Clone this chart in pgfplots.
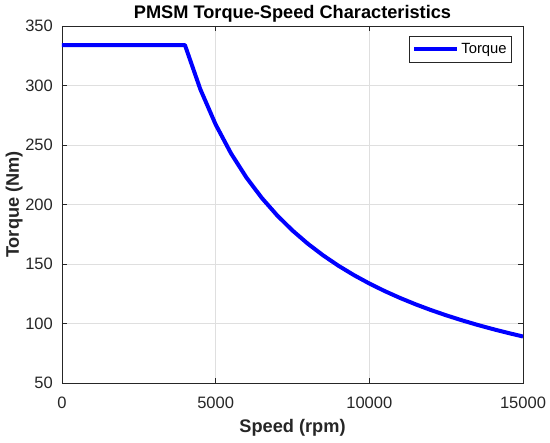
\documentclass[border=0pt]{standalone}
\usepackage{fontspec}
\setmainfont{Liberation Sans}
\usepackage{pgfplots}
\pgfplotsset{compat=1.18}
\definecolor{axgray}{RGB}{38,38,38}
\definecolor{gridgray}{RGB}{223,223,223}
\begin{document}
\begin{tikzpicture}
\path[use as bounding box] (-62pt,-60pt) rectangle (488pt,383pt);
\begin{axis}[
  at={(0,0)}, anchor=south west,
  scale only axis, width=461pt, height=357pt,
  xmin=0, xmax=15000, ymin=50, ymax=350,
  xtick={0,5000,10000,15000},
  ytick={50,100,150,200,250,300,350},
  scaled ticks=false,
  /pgf/number format/assume math mode=true,
  /pgf/number format/set thousands separator={},
  axis line style={draw=axgray, line width=0.6pt},
  tick style={draw=axgray, line width=0.6pt},
  tick align=inside,
  major tick length=5pt,
  grid=major,
  major grid style={draw=gridgray, line width=0.6pt},
  ticklabel style={font=\fontsize{16.5}{18}\selectfont, text=axgray, inner sep=0pt},
  xticklabel style={anchor=base, yshift=-26pt},
  yticklabel style={anchor=east, xshift=-9pt},
  every axis title shift=0pt,
  title={PMSM Torque-Speed Characteristics},
  title style={at={(axis description cs:0.5,1.0196)}, anchor=base, font=\bfseries\fontsize{18.2}{20}\selectfont, inner sep=0pt},
  xlabel={Speed (rpm)},
  xlabel style={at={(axis description cs:0.5,-0.140)}, anchor=base, font=\bfseries\fontsize{18.2}{20}\selectfont, text=axgray, inner sep=0pt},
  ylabel={Torque (Nm)},
  ylabel style={at={(axis description cs:-0.0933,0.5)}, anchor=base, font=\bfseries\fontsize{18.2}{20}\selectfont, text=axgray, inner sep=0pt},
  legend style={at={(axis description cs:0.976,0.972)}, anchor=north east,
    draw=axgray, line width=0.6pt, font=\fontsize{14.8}{16}\selectfont,
    inner xsep=3pt, inner ysep=5pt, cells={anchor=west}},
  legend image code/.code={\draw[#1] (0pt,0pt) -- (43pt,0pt);},
]
\addplot[color=blue, line width=4pt, line join=round] coordinates {
(0,334) (500,334) (1000,334) (1500,334) (2000,334) (2500,334) (3000,334) (3500,334) (4000,334)
(4500,296.89) (5000,267.2) (5500,242.91) (6000,222.67) (6500,205.54) (7000,190.86)
(7500,178.13) (8000,167.0) (8500,157.18) (9000,148.44) (9500,140.63) (10000,133.6)
(10500,127.24) (11000,121.45) (11500,116.17) (12000,111.33) (12500,106.88) (13000,102.77)
(13500,98.96) (14000,95.43) (14500,92.14) (15000,89.07)
};
\addlegendentry{Torque}
\end{axis}
\end{tikzpicture}
\end{document}
